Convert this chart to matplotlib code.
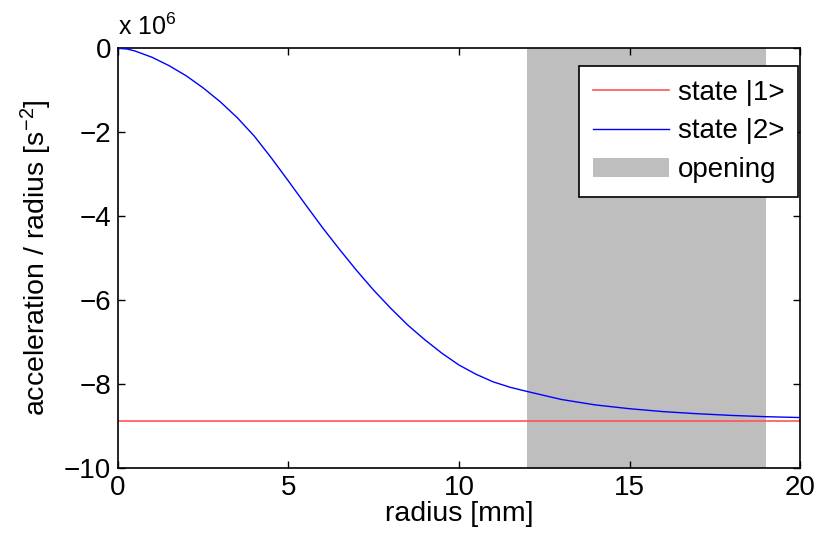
import numpy as np
import matplotlib
matplotlib.use('Agg')
import matplotlib.pyplot as plt
from matplotlib.patches import Patch
from matplotlib.lines import Line2D

plt.rcParams['font.family'] = ['Liberation Sans', 'DejaVu Sans']
plt.rcParams['mathtext.fontset'] = 'custom'
plt.rcParams['mathtext.rm'] = 'Liberation Sans'
plt.rcParams['mathtext.it'] = 'Liberation Sans'

# radius in mm, acceleration/radius in units of 1e6 s^-2
radius = [0, 0.25, 0.5, 1, 1.5, 2, 2.5, 3, 3.5, 4, 4.5, 5, 5.5, 6, 6.5, 7, 7.5, 8,
          8.5, 9, 9.5, 10, 10.5, 11, 11.5, 12, 13, 14, 15, 16, 17, 18, 19, 20]
state2 = [0, -0.02, -0.07, -0.22, -0.42, -0.66, -0.95, -1.28, -1.66, -2.10, -2.62,
          -3.17, -3.73, -4.28, -4.80, -5.30, -5.77, -6.20, -6.60, -6.95, -7.27,
          -7.55, -7.77, -7.95, -8.08, -8.18, -8.37, -8.50, -8.59, -8.66, -8.71,
          -8.75, -8.78, -8.80]
state1_x = [0, 20]
state1 = [-8.89, -8.89]
opening = (12, 19)

fig = plt.figure(figsize=(8.19, 5.46), dpi=100)
ax = fig.add_axes([0.144, 0.143, 0.833, 0.769])

ax.axvspan(opening[0], opening[1], color='#bebebe', lw=0, zorder=0)
ax.plot(state1_x, state1, color='#ff5555', lw=1.2, zorder=2)
ax.plot(radius, state2, color='blue', lw=1.0, zorder=3)

ax.set_xlim(0, 20)
ax.set_ylim(-10, 0)
ax.set_xticks([0, 5, 10, 15, 20])
ax.set_yticks([-10, -8, -6, -4, -2, 0])
ax.tick_params(direction='in', top=True, right=True, labelsize=20, length=5, width=1, pad=5)
for s in ax.spines.values():
    s.set_linewidth(1.2)

ax.set_xlabel('radius [mm]', fontsize=20.5, labelpad=0)
ax.set_ylabel('acceleration / radius [s$^{-2}$]', fontsize=20.5, labelpad=7)
ax.text(0, 1.02, 'x 10$^{6}$', transform=ax.transAxes, fontsize=18, ha='left', va='bottom')

handles = [Line2D([], [], color='#ff5555', lw=1.2),
           Line2D([], [], color='blue', lw=1.0),
           Patch(facecolor='#bebebe', edgecolor='none')]
leg = ax.legend(handles, ['state |1>', 'state |2>', 'opening'], loc='upper right',
                bbox_to_anchor=(0.997, 0.957), borderaxespad=0,
                fontsize=20, fancybox=False, framealpha=1, edgecolor='black',
                handlelength=2.75, handletextpad=0.3, labelspacing=0.45,
                borderpad=0.5)
leg.get_frame().set_linewidth(1.2)

fig.savefig('out.png', dpi=100)
